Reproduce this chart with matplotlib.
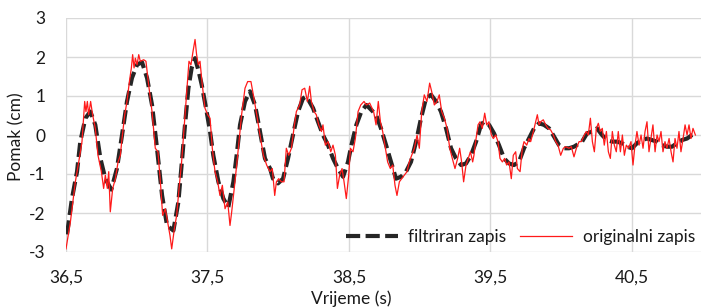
import matplotlib
matplotlib.use("Agg")
import matplotlib.pyplot as plt

# ---- data ----
t_filt = [36.507, 36.542, 36.578, 36.601, 36.637, 36.672, 36.707, 36.743, 36.778, 36.820,
          36.860, 36.896, 36.931, 36.966, 37.002, 37.037, 37.073, 37.108, 37.143, 37.179,
          37.214, 37.259, 37.294, 37.317, 37.341, 37.365, 37.388, 37.412, 37.435, 37.459,
          37.494, 37.518, 37.541, 37.577, 37.612, 37.647, 37.683, 37.706, 37.730, 37.765,
          37.800, 37.836, 37.871, 37.906, 37.942, 37.963, 37.998, 38.034, 38.069, 38.104,
          38.140, 38.175, 38.199, 38.246, 38.281, 38.316, 38.352, 38.387, 38.422, 38.458,
          38.493, 38.517, 38.552, 38.587, 38.623, 38.658, 38.691, 38.726, 38.762, 38.797,
          38.832, 38.868, 38.903, 38.938, 38.974, 39.009, 39.044, 39.080, 39.115, 39.150,
          39.186, 39.221, 39.256, 39.292, 39.327, 39.362, 39.398, 39.433, 39.454, 39.490,
          39.525, 39.560, 39.596, 39.631, 39.666, 39.701, 39.737, 39.772, 39.808, 39.843,
          39.878, 39.914, 39.949, 39.984, 40.020, 40.055, 40.090, 40.147, 40.182, 40.217,
          40.253, 40.288, 40.323, 40.359, 40.394, 40.429, 40.465, 40.500, 40.535, 40.571,
          40.606, 40.641, 40.677, 40.712, 40.747, 40.783, 40.818, 40.853, 40.889, 40.924,
          40.948]
y_filt = [-2.55, -1.63, -0.94, -0.17, 0.43, 0.60, 0.26, -0.60, -1.12, -1.40,
          -0.86, 0.00, 0.86, 1.46, 1.80, 1.87, 1.46, 0.77, -0.34, -1.55,
          -2.32, -2.45, -1.72, -0.77, 0.26, 1.20, 1.72, 1.97, 1.67, 1.29,
          0.60, 0.09, -0.52, -1.20, -1.63, -1.85, -1.20, -0.52, 0.26, 0.86,
          1.12, 0.77, 0.09, -0.60, -0.86, -1.12, -1.24, -1.12, -0.60, 0.00,
          0.60, 0.94, 0.99, 0.69, 0.34, 0.00, -0.26, -0.60, -0.86, -1.07,
          -0.69, -0.26, 0.26, 0.60, 0.77, 0.64, 0.52, 0.17, -0.26, -0.69,
          -1.12, -1.07, -0.94, -0.69, -0.17, 0.43, 0.94, 1.03, 0.86, 0.60,
          0.17, -0.34, -0.60, -0.77, -0.73, -0.52, -0.17, 0.26, 0.34, 0.26,
          0.04, -0.26, -0.60, -0.73, -0.77, -0.69, -0.34, -0.09, 0.17, 0.30,
          0.26, 0.17, -0.04, -0.26, -0.34, -0.34, -0.30, -0.17, 0.04, 0.09,
          0.17, 0.00, -0.13, -0.17, -0.17, -0.21, -0.30, -0.34, -0.21, -0.13,
          -0.09, -0.13, -0.17, -0.26, -0.30, -0.30, -0.21, -0.13, -0.09, 0.00,
          0.04]

t_orig = [36.500, 36.531, 36.566, 36.590, 36.613, 36.632, 36.641, 36.651, 36.660, 36.674,
          36.688, 36.707, 36.726, 36.750, 36.766, 36.778, 36.792, 36.802, 36.813, 36.830,
          36.849, 36.868, 36.884, 36.896, 36.915, 36.931, 36.948, 36.962, 36.971, 36.981,
          36.990, 37.002, 37.014, 37.025, 37.049, 37.065, 37.084, 37.108, 37.131, 37.150,
          37.167, 37.183, 37.202, 37.218, 37.235, 37.247, 37.266, 37.282, 37.299, 37.317,
          37.336, 37.353, 37.369, 37.383, 37.398, 37.412, 37.423, 37.435, 37.447, 37.463,
          37.482, 37.501, 37.518, 37.534, 37.553, 37.572, 37.588, 37.605, 37.624, 37.643,
          37.659, 37.671, 37.694, 37.718, 37.741, 37.765, 37.784, 37.807, 37.824, 37.848,
          37.871, 37.895, 37.918, 37.942, 37.958, 37.975, 37.987, 38.003, 38.022, 38.041,
          38.057, 38.074, 38.093, 38.111, 38.128, 38.151, 38.168, 38.187, 38.206, 38.222,
          38.234, 38.253, 38.269, 38.286, 38.305, 38.316, 38.333, 38.352, 38.371, 38.387,
          38.404, 38.418, 38.434, 38.451, 38.465, 38.481, 38.498, 38.510, 38.528, 38.545,
          38.564, 38.583, 38.606, 38.623, 38.646, 38.674, 38.691, 38.707, 38.722, 38.738,
          38.754, 38.773, 38.792, 38.809, 38.825, 38.839, 38.856, 38.872, 38.891, 38.910,
          38.926, 38.943, 38.962, 38.981, 38.997, 39.014, 39.032, 39.051, 39.070, 39.084,
          39.103, 39.122, 39.138, 39.155, 39.174, 39.193, 39.212, 39.230, 39.249, 39.268,
          39.282, 39.296, 39.310, 39.327, 39.343, 39.358, 39.374, 39.383, 39.395, 39.412,
          39.426, 39.442, 39.459, 39.473, 39.489, 39.506, 39.520, 39.537, 39.553, 39.567,
          39.584, 39.600, 39.614, 39.631, 39.647, 39.661, 39.678, 39.690, 39.709, 39.725,
          39.737, 39.756, 39.772, 39.784, 39.803, 39.819, 39.831, 39.843, 39.855, 39.873,
          39.890, 39.906, 39.925, 39.944, 39.961, 39.977, 39.996, 40.015, 40.031, 40.055,
          40.071, 40.090, 40.107, 40.126, 40.142, 40.163, 40.177, 40.191, 40.206, 40.220,
          40.234, 40.248, 40.262, 40.276, 40.290, 40.304, 40.319, 40.333, 40.347, 40.361,
          40.375, 40.389, 40.403, 40.418, 40.432, 40.446, 40.460, 40.476, 40.493, 40.507,
          40.521, 40.535, 40.550, 40.564, 40.578, 40.592, 40.606, 40.620, 40.634, 40.648,
          40.663, 40.677, 40.691, 40.705, 40.719, 40.733, 40.747, 40.762, 40.776, 40.790,
          40.804, 40.818, 40.832, 40.846, 40.861, 40.875, 40.889, 40.903, 40.917, 40.931,
          40.948]
y_orig = [-2.92, -2.23, -1.20, -0.69, -0.17, 0.86, 0.60, 0.86, 0.52, 0.86,
          0.52, 0.17, -0.52, -0.94, -1.37, -1.03, -1.37, -0.94, -1.97, -1.37,
          -1.12, -0.69, -0.52, -0.09, 0.52, 0.86, 1.37, 1.72, 2.06, 1.72,
          1.97, 1.80, 2.06, 1.89, 1.93, 1.89, 1.29, 0.60, -0.34, -0.43,
          -1.20, -2.06, -1.89, -2.23, -2.58, -2.92, -2.40, -2.06, -1.37, -0.69,
          0.26, 1.12, 1.89, 1.80, 2.15, 2.45, 2.06, 1.80, 1.89, 1.29,
          0.69, 0.52, 0.43, -0.34, -0.94, -1.20, -1.55, -1.29, -1.89, -1.72,
          -2.32, -1.97, -1.20, -0.34, 0.52, 1.20, 1.37, 1.37, 1.03, 0.52,
          0.00, -0.52, -0.77, -0.94, -0.86, -1.55, -1.20, -1.12, -1.20, -1.20,
          -0.34, -0.52, -0.34, 0.17, 0.60, 0.77, 1.16, 1.20, 0.86, 1.25,
          0.86, 0.60, 0.52, 0.26, 0.09, 0.26, -0.26, -0.17, -0.43, -0.26,
          -0.52, -1.37, -1.03, -0.86, -1.20, -1.63, -1.03, -0.34, -0.43, -0.09,
          0.60, 0.77, 0.86, 0.77, 0.82, 0.60, 0.26, 0.86, 0.34, 0.09,
          -0.26, -0.69, -0.86, -0.77, -1.29, -1.55, -1.20, -1.12, -1.03, -0.94,
          -0.69, -0.52, -0.34, 0.00, -0.34, 0.60, 1.03, 0.86, 1.33, 1.12,
          0.77, 0.86, 1.03, 0.60, 0.43, 0.17, -0.34, -0.60, -0.86, -0.60,
          -0.34, -0.69, -1.20, -0.77, -0.60, -0.43, -0.69, -0.52, -0.17, 0.26,
          0.34, 0.17, 0.56, 0.26, 0.34, 0.00, -0.09, 0.00, -0.17, -0.60,
          -0.69, -0.60, -0.77, -0.69, -1.12, -0.52, -0.43, -0.86, -0.94, -0.34,
          -0.17, -0.26, -0.09, -0.17, 0.09, 0.34, 0.52, 0.26, 0.34, 0.39,
          0.26, 0.17, 0.13, 0.00, -0.17, -0.26, -0.52, -0.34, -0.30, -0.34,
          -0.30, -0.56, -0.34, -0.17, -0.17, 0.00, 0.09, 0.00, 0.43, -0.17,
          -0.43, 0.17, 0.30, 0.09, 0.17, -0.26, 0.09, -0.43, -0.60, 0.09,
          -0.26, -0.43, 0.09, -0.43, 0.00, -0.52, -0.26, -0.34, -0.17, -0.77,
          -0.26, 0.09, -0.26, 0.00, -0.34, 0.09, 0.34, -0.43, -0.09, 0.26,
          -0.43, 0.00, -0.17, 0.09, -0.43, -0.17, -0.34, -0.09, -0.43, -0.69,
          -0.09, -0.34, 0.09, -0.43, -0.09, 0.26, 0.00, 0.26, -0.09, 0.17,
          0.00]

x_ticks = [36.5, 37.5, 38.5, 39.5, 40.5]
x_tick_labels = ["36,5", "37,5", "38,5", "39,5", "40,5"]
y_ticks = [-3, -2, -1, 0, 1, 2, 3]
y_tick_labels = ["-3", "-2", "-1", "0", "1", "2", "3"]

label_filt = "filtriran zapis"
label_orig = "originalni zapis"
x_label = "Vrijeme (s)"
y_label = "Pomak (cm)"

# ---- figure ----
W, H = 701, 308
FS = 12.5
plt.rcParams['font.family'] = ['Lato', 'DejaVu Sans']
fig = plt.figure(figsize=(W / 100, H / 100), dpi=100)
ax = fig.add_axes([66 / W, 1 - 252 / H, (W - 66) / W, (252 - 18) / H])

ax.plot(t_filt, y_filt, color="#262626", lw=3.0, dashes=(3.4, 1.3),
        solid_capstyle="butt", dash_capstyle="butt", label=label_filt, zorder=3)
ax.plot(t_orig, y_orig, color="#ff1a1a", lw=0.9, label=label_orig, zorder=4)

ax.set_xlim(36.5, 36.5 + (W - 66) / 141.5)
ax.set_ylim(-3, 3)
ax.set_xticks(x_ticks)
ax.set_xticklabels(x_tick_labels)
ax.set_yticks(y_ticks)
ax.set_yticklabels(y_tick_labels)
ax.tick_params(axis="both", length=0, labelsize=FS, colors="#1a1a1a")
ax.tick_params(axis="x", pad=13)
ax.tick_params(axis="y", pad=15)
ax.grid(True, color="#d9d9d9", lw=1.0)
ax.set_axisbelow(True)
for s in ax.spines.values():
    s.set_visible(False)

fig.text(351 / W, 1 - 298.5 / H, x_label, ha="center", va="center", fontsize=FS, color="#1a1a1a")
fig.text(16 / W, 1 - 137 / H, y_label, ha="center", va="center", rotation=90, fontsize=FS, color="#1a1a1a")

leg = ax.legend(loc="center right", bbox_to_anchor=((695 - 66) / (W - 66), (252 - 237) / 234), ncol=2,
                frameon=False, fontsize=FS, handlelength=3.0, handletextpad=0.6,
                columnspacing=0.8, borderaxespad=0.0, borderpad=0.0)
for txt in leg.get_texts():
    txt.set_color("#1a1a1a")

fig.savefig("out.png", dpi=100)
